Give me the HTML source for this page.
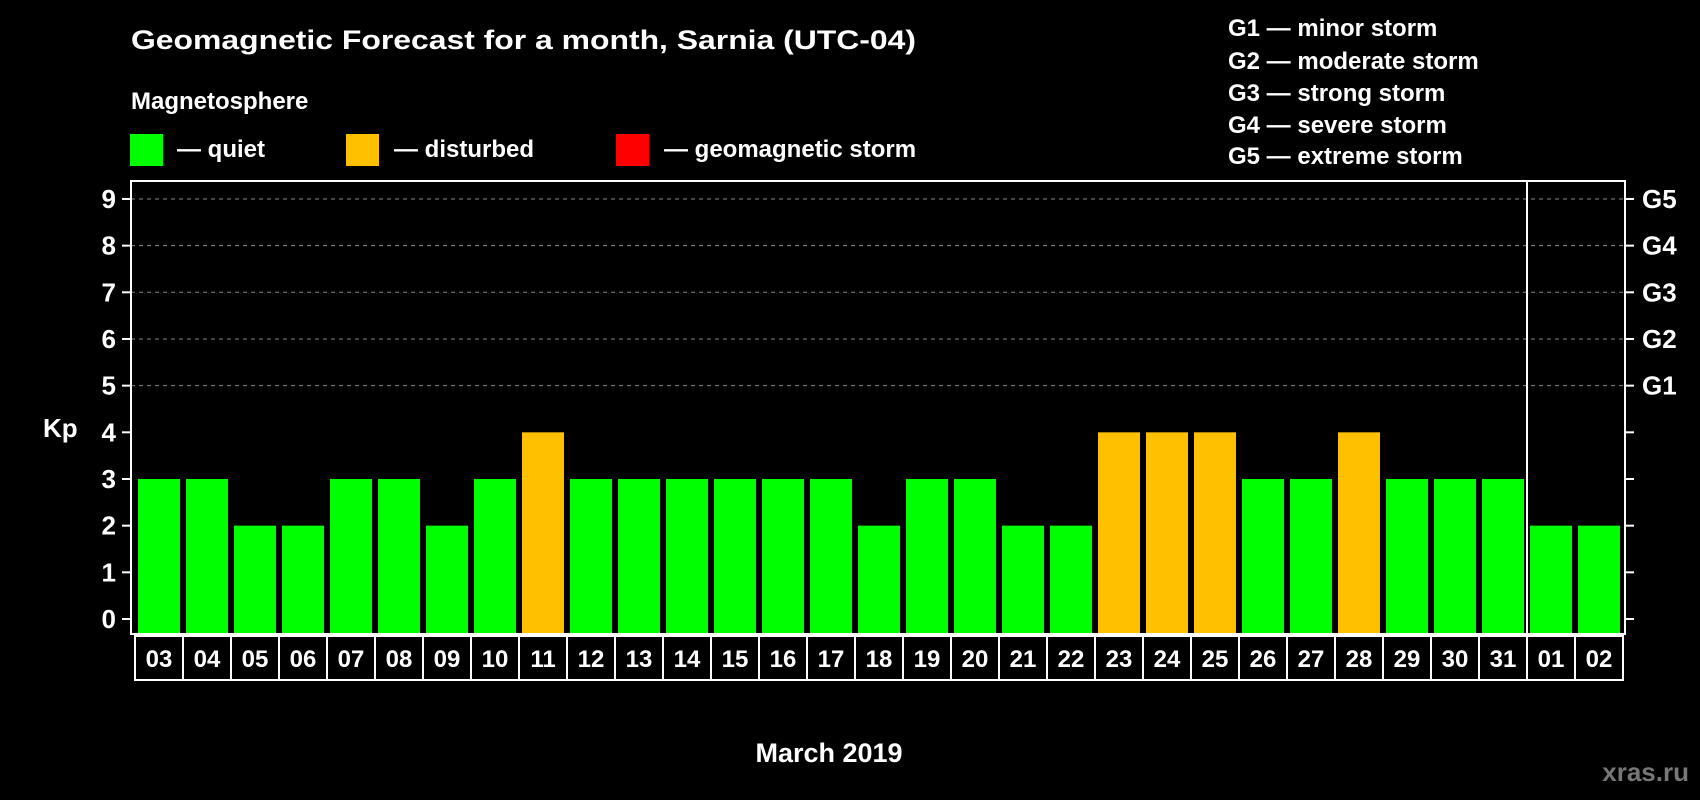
<!DOCTYPE html>
<html><head><meta charset="utf-8"><style>
html,body{margin:0;padding:0;background:#000;}
svg{display:block;font-family:"Liberation Sans",Arial,sans-serif;font-weight:bold;}
</style></head><body>
<svg id="chart" width="1700" height="800" viewBox="0 0 1700 800">
<rect x="0" y="0" width="1700" height="800" fill="#000"/>
<text x="131" y="49" font-size="27" fill="#fff" textLength="785" lengthAdjust="spacingAndGlyphs">Geomagnetic Forecast for a month, Sarnia (UTC-04)</text>
<text x="131" y="109" font-size="24" fill="#fff">Magnetosphere</text>
<rect x="130" y="134" width="33" height="32" fill="#00ff00"/>
<text x="177" y="157" font-size="24" fill="#fff">— quiet</text>
<rect x="346" y="134" width="33" height="32" fill="#ffc000"/>
<text x="394" y="157" font-size="24" fill="#fff">— disturbed</text>
<rect x="616" y="134" width="33" height="32" fill="#ff0000"/>
<text x="664" y="157" font-size="24" fill="#fff">— geomagnetic storm</text>
<g font-size="24" fill="#fff">
<text x="1228" y="36">G1 — minor storm</text>
<text x="1228" y="69">G2 — moderate storm</text>
<text x="1228" y="101">G3 — strong storm</text>
<text x="1228" y="133">G4 — severe storm</text>
<text x="1228" y="164">G5 — extreme storm</text>
</g>
<text x="43" y="437" font-size="26" fill="#fff">Kp</text>
<text x="829" y="762" font-size="27" fill="#fff" text-anchor="middle">March 2019</text>
<text x="1689" y="781" font-size="26" fill="#777" text-anchor="end">xras.ru</text>
<g id="plot"></g>
</svg>
<script>
const days = ["03","04","05","06","07","08","09","10","11","12","13","14","15","16","17","18","19","20","21","22","23","24","25","26","27","28","29","30","31","01","02"];
const kpValues = [3,3,2,2,3,3,2,3,4,3,3,3,3,3,3,2,3,3,2,2,4,4,4,3,3,4,3,3,3,2,2];
const yTicks = [0,1,2,3,4,5,6,7,8,9];
const gLabels = ["G1","G2","G3","G4","G5"];
const gLevels = [5,6,7,8,9];

const NS = "http://www.w3.org/2000/svg";
const plotG = document.getElementById("plot");
const plotLeft = 131, plotRight = 1625, plotTop = 181, plotBottom = 634;
const yZero = 619, unitPx = 46.67;
const slot = 48, barStart = 138, barW = 42;
function yScale(v){ return yZero - v*unitPx; }
function xScale(i){ return barStart + i*slot; }
function mk(tag, attrs){ const e=document.createElementNS(NS,tag); for(const k in attrs) e.setAttribute(k,attrs[k]); plotG.appendChild(e); return e; }

yTicks.forEach(function(t){
  const y = yScale(t);
  if(t>=5){
    const g = mk("line",{x1:plotLeft,x2:plotRight,y1:y,y2:y,stroke:"#888","stroke-width":1,"stroke-dasharray":"4,4"});
    
    
  }
  const tl = mk("line",{x1:122,x2:plotLeft,y1:y,y2:y,stroke:"#fff","stroke-width":2});
  
  
  const tr = mk("line",{x1:plotRight,x2:1634,y1:y,y2:y,stroke:"#fff","stroke-width":2});
  
  
  const lb = mk("text",{x:116,y:y+9,"font-size":26,fill:"#fff","text-anchor":"end"});
  lb.textContent = t;
  
  
});
gLabels.forEach(function(g,i){
  const lb = mk("text",{x:1642,y:yScale(gLevels[i])+9,"font-size":26,fill:"#fff"});
  lb.textContent = g;
  
  
});
kpValues.forEach(function(v,i){
  const b = mk("rect",{x:xScale(i),y:yScale(v),width:barW,height:plotBottom-yScale(v)-1,fill:v>=5?"#ff0000":(v>=4?"#ffc000":"#00ff00")});
  
  
});
const frame = mk("rect",{x:plotLeft,y:plotTop,width:plotRight-plotLeft,height:plotBottom-plotTop,fill:"none",stroke:"#fff","stroke-width":2});


const sepIdx = days.indexOf("01");
const sx = xScale(sepIdx) - 3;
const sep = mk("line",{x1:sx,x2:sx,y1:plotTop,y2:680,stroke:"#fff","stroke-width":2});


const rowTop = 636, rowBot = 680;
const rowL = xScale(0)-3, rowR = xScale(days.length-1)+barW+3;
const row = mk("rect",{x:rowL,y:rowTop,width:rowR-rowL,height:rowBot-rowTop,fill:"none",stroke:"#fff","stroke-width":2});


days.forEach(function(d,i){
  if(i>0){
    const x = xScale(i)-3;
    const l = mk("line",{x1:x,x2:x,y1:rowTop,y2:rowBot,stroke:"#fff","stroke-width":2});
    
    
  }
  const t = mk("text",{x:xScale(i)+barW/2,y:667,"font-size":24,fill:"#fff","text-anchor":"middle"});
  t.textContent = d;
  
  
});
</script>
</body></html>
